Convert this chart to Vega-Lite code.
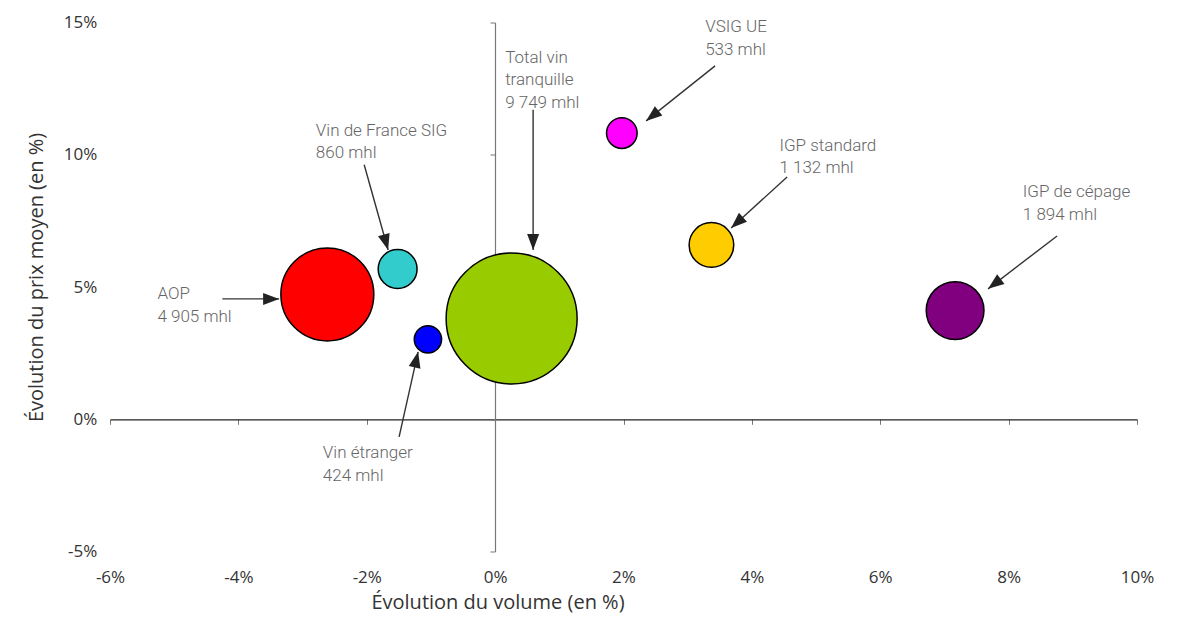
{
  "$schema": "https://vega.github.io/schema/vega-lite/v6.json",
  "width": 1027,
  "height": 529,
  "autosize": {"type": "none"},
  "padding": {"left": 110, "top": 22.5, "right": 46, "bottom": 70.5},
  "background": "white",
  "datasets": {
    "segments": [
      {"segment": "AOP", "x": -2.614, "y": 4.72, "volume": 4905},
      {"segment": "Vin de France SIG", "x": -1.519, "y": 5.68, "volume": 860},
      {"segment": "Vin étranger", "x": -1.047, "y": 3.02, "volume": 424},
      {"segment": "Total vin tranquille", "x": 0.257, "y": 3.81, "volume": 9749},
      {"segment": "VSIG UE", "x": 1.974, "y": 10.82, "volume": 533},
      {"segment": "IGP standard", "x": 3.37, "y": 6.59, "volume": 1132},
      {"segment": "IGP de cépage", "x": 7.166, "y": 4.11, "volume": 1894}
    ],
    "pointers": [
      {"segment": "AOP", "x": -3.365, "y": 4.55, "x2": -4.25, "y2": 4.55},
      {"segment": "Vin de France SIG", "x": -1.667, "y": 6.4, "x2": -2.04, "y2": 9.62},
      {"segment": "Vin étranger", "x": -1.2, "y": 2.55, "x2": -1.496, "y2": -0.67},
      {"segment": "Total vin tranquille", "x": 0.592, "y": 6.4, "x2": 0.592, "y2": 11.7},
      {"segment": "VSIG UE", "x": 2.352, "y": 11.28, "x2": 3.427, "y2": 13.36},
      {"segment": "IGP standard", "x": 3.677, "y": 7.23, "x2": 4.549, "y2": 9.16},
      {"segment": "IGP de cépage", "x": 7.68, "y": 4.93, "x2": 8.755, "y2": 6.93}
    ],
    "captions": [
      {"segment": "AOP", "x": -5.261, "y": 4.54, "label": "AOP\n4 905 mhl"},
      {"segment": "Vin de France SIG", "x": -2.793, "y": 10.71, "label": "Vin de France SIG\n860 mhl"},
      {"segment": "Vin étranger", "x": -2.684, "y": -1.475, "label": "Vin étranger\n424 mhl"},
      {"segment": "Total vin tranquille", "x": 0.156, "y": 13.48, "label": "Total vin\ntranquille\n9 749 mhl"},
      {"segment": "VSIG UE", "x": 3.272, "y": 14.63, "label": "VSIG UE\n533 mhl"},
      {"segment": "IGP standard", "x": 4.429, "y": 10.16, "label": "IGP standard\n1 132 mhl"},
      {"segment": "IGP de cépage", "x": 8.221, "y": 8.4, "label": "IGP de cépage\n1 894 mhl"}
    ]
  },
  "encoding": {
    "x": {
      "field": "x",
      "type": "quantitative",
      "scale": {"domain": [-6, 10], "nice": false, "zero": false},
      "axis": {
        "title": "Évolution du volume (en %)",
        "values": [-6, -4, -2, 0, 2, 4, 6, 8, 10],
        "labelExpr": "datum.value + '%'",
        "offset": -132.2,
        "grid": false,
        "domainColor": "#222222",
        "domainWidth": 1.3,
        "tickColor": "#777777",
        "tickSize": 5,
        "labelPadding": 158.4,
        "labelBaseline": "alphabetic",
        "labelFont": "Open Sans",
        "labelFontSize": 17,
        "labelColor": "#333333",
        "labelFlush": false,
        "labelOverlap": false,
        "titleFont": "Open Sans",
        "titleFontSize": 20,
        "titleFontWeight": "normal",
        "titleColor": "#333333",
        "titleX": 387.5,
        "titleY": 189.5,
        "titleBaseline": "alphabetic",
        "titleAlign": "center"
      }
    },
    "y": {
      "field": "y",
      "type": "quantitative",
      "scale": {"domain": [-5, 15], "nice": false, "zero": false},
      "axis": {
        "title": "Évolution du prix moyen (en %)",
        "values": [-5, 0, 5, 10, 15],
        "labelExpr": "datum.value + '%'",
        "offset": -385,
        "grid": false,
        "domainColor": "#777777",
        "domainWidth": 1.2,
        "tickColor": "#777777",
        "tickSize": 5,
        "labelPadding": 393.3,
        "labelFont": "Open Sans",
        "labelFontSize": 17,
        "labelColor": "#333333",
        "labelFlush": false,
        "labelOverlap": false,
        "titleFont": "Open Sans",
        "titleFontSize": 20,
        "titleFontWeight": "normal",
        "titleColor": "#333333",
        "titleAngle": -90,
        "titleX": -452.7,
        "titleY": 254.5,
        "titleBaseline": "alphabetic",
        "titleAlign": "center"
      }
    }
  },
  "layer": [
    {
      "data": {"name": "pointers"},
      "mark": {"type": "rule", "color": "#333333", "strokeWidth": 1.4},
      "encoding": {
        "x2": {"field": "x2"},
        "y2": {"field": "y2"}
      }
    },
    {
      "data": {"name": "pointers"},
      "transform": [
        {"calculate": "atan2((datum.x - datum.x2) * width / 16, (datum.y - datum.y2) * height / 20) * 180 / PI", "as": "heading"}
      ],
      "mark": {
        "type": "point",
        "shape": "M0,0L-0.375,1L0.375,1Z",
        "filled": true,
        "size": 1024,
        "color": "#222222",
        "opacity": 1
      },
      "encoding": {
        "angle": {"field": "heading", "type": "quantitative", "scale": null}
      }
    },
    {
      "data": {"name": "segments"},
      "mark": {
        "type": "point",
        "shape": "circle",
        "filled": true,
        "opacity": 1,
        "stroke": "#000000",
        "strokeWidth": 1.5
      },
      "encoding": {
        "size": {
          "field": "volume",
          "type": "quantitative",
          "scale": {"type": "linear", "domain": [0, 9749], "range": [0, 17161], "zero": true},
          "legend": null
        },
        "fill": {
          "field": "segment",
          "type": "nominal",
          "scale": {
            "domain": ["AOP", "Vin de France SIG", "Vin étranger", "Total vin tranquille", "VSIG UE", "IGP standard", "IGP de cépage"],
            "range": ["#FF0000", "#33CCCC", "#0000FF", "#99CC00", "#FF00FF", "#FFCC00", "#800080"]
          },
          "legend": null
        }
      }
    },
    {
      "data": {"name": "captions"},
      "mark": {
        "type": "text",
        "align": "left",
        "baseline": "alphabetic",
        "lineBreak": "\n",
        "lineHeight": 22.5,
        "font": "Roboto",
        "fontWeight": 300,
        "fontSize": 17,
        "color": "#666666"
      },
      "encoding": {
        "text": {"field": "label", "type": "nominal"}
      }
    }
  ],
  "config": {
    "view": {"stroke": null}
  }
}
